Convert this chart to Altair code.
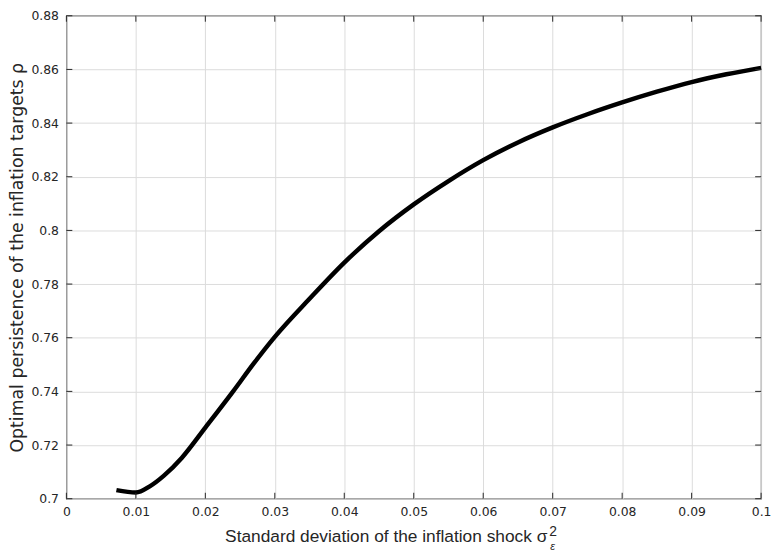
import altair as alt
import pandas as pd

# Data
sigma = [0.0072, 0.0100, 0.0120, 0.0140, 0.0166, 0.0200, 0.0240, 0.0270, 0.0300,
         0.0350, 0.0400, 0.0450, 0.0500, 0.0550, 0.0600, 0.0650, 0.0700, 0.0750,
         0.0800, 0.0850, 0.0900, 0.0950, 0.1000]
rho = [0.7032, 0.7023, 0.7046, 0.7085, 0.7152, 0.7265, 0.7400, 0.7505, 0.7603,
       0.7745, 0.7880, 0.7997, 0.8097, 0.8184, 0.8262, 0.8328, 0.8384, 0.8433,
       0.8477, 0.8517, 0.8553, 0.8582, 0.8606]
x_ticks = [0, 0.01, 0.02, 0.03, 0.04, 0.05, 0.06, 0.07, 0.08, 0.09, 0.1]
y_ticks = [0.70, 0.72, 0.74, 0.76, 0.78, 0.80, 0.82, 0.84, 0.86, 0.88]

x_title = "Standard deviation of the inflation shock"
y_title = "Optimal persistence of the inflation targets \u03c1"

W, H = 702, 488
FONT = "Liberation Sans"
LFONT = "DejaVu Sans"
INK = "#262626"

df = pd.DataFrame({"sigma": sigma, "rho": rho})
xt = pd.DataFrame({"t": x_ticks})
yt = pd.DataFrame({"t": y_ticks})

xs = alt.Scale(domain=[0, 0.1], nice=False, zero=False)
ys = alt.Scale(domain=[0.7, 0.88], nice=False, zero=False)

xaxis = alt.Axis(values=x_ticks, format=".2~f", grid=True, gridColor="#dcdcdc",
                 gridWidth=1, ticks=False, domain=False, labelFont=LFONT,
                 labelFontSize=12.5, labelColor=INK, labelPadding=7, title="",
                 labelFlush=False)
yaxis = alt.Axis(values=y_ticks, format=".2~f", grid=True, gridColor="#dcdcdc",
                 gridWidth=1, ticks=False, domain=False, labelFont=LFONT,
                 labelFontSize=12.5, labelColor=INK, labelPadding=8,
                 title=y_title, titleFont=LFONT, titleFontSize=17.5,
                 titleFontWeight="normal", titleColor=INK, titleX=-40,
                 titleBaseline="bottom", labelFlush=False)

line = alt.Chart(df).mark_line(color="black", strokeWidth=4.5,
                               interpolate="monotone").encode(
    x=alt.X("sigma:Q", scale=xs, axis=xaxis),
    y=alt.Y("rho:Q", scale=ys, axis=yaxis),
)

tick_style = dict(color=INK, strokeWidth=1)
bt = alt.Chart(xt).mark_rule(**tick_style).encode(
    x=alt.X("t:Q", scale=xs), y=alt.value(H), y2=alt.value(H - 6))
tt = alt.Chart(xt).mark_rule(**tick_style).encode(
    x=alt.X("t:Q", scale=xs), y=alt.value(0), y2=alt.value(6))
lt = alt.Chart(yt).mark_rule(**tick_style).encode(
    y=alt.Y("t:Q", scale=ys), x=alt.value(0), x2=alt.value(6))
rt = alt.Chart(yt).mark_rule(**tick_style).encode(
    y=alt.Y("t:Q", scale=ys), x=alt.value(W), x2=alt.value(W - 6))

title_df = pd.DataFrame({"a": [x_title + " \u03c3"]})
xtitle = alt.Chart(title_df).mark_text(
    font=FONT, fontSize=17.5, color=INK, align="right", baseline="alphabetic"
).encode(text="a:N", x=alt.value(486), y=alt.value(H + 44))
sup = alt.Chart(pd.DataFrame({"a": ["2"]})).mark_text(
    font=FONT, fontSize=14, color=INK, align="left", baseline="alphabetic"
).encode(text="a:N", x=alt.value(488), y=alt.value(H + 38))
sub = alt.Chart(pd.DataFrame({"a": ["\u03b5"]})).mark_text(
    font=FONT, fontSize=11, color=INK, align="left", baseline="alphabetic",
    fontStyle="italic"
).encode(text="a:N", x=alt.value(489), y=alt.value(H + 52))

chart = alt.layer(line, bt, tt, lt, rt, xtitle, sup, sub).properties(
    width=W, height=H,
    autosize=alt.AutoSizeParams(type="none"),
    padding={"left": 59, "top": 5, "right": 10, "bottom": 51},
).configure_view(stroke=INK, strokeWidth=1.2)

chart.save("out.html", embed_options={"renderer": "svg", "actions": False})
